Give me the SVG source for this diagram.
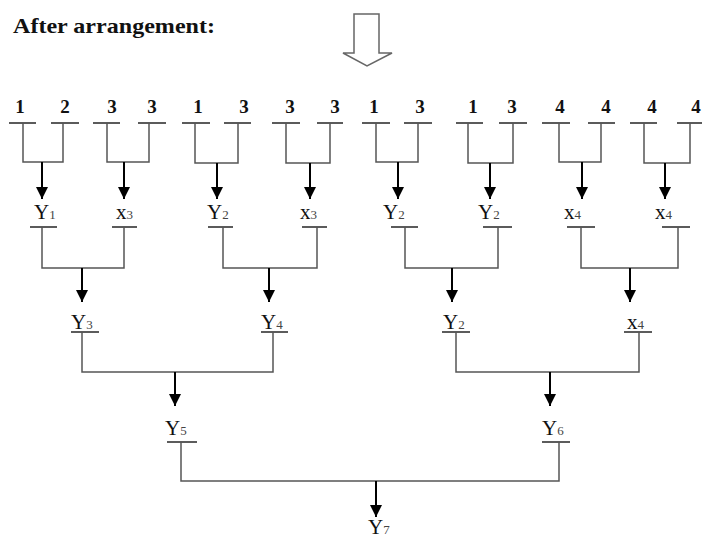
<svg xmlns="http://www.w3.org/2000/svg" width="702" height="541" viewBox="0 0 702 541">
<style>
  text { font-family: "Liberation Serif", "Times New Roman", serif; fill: #111; }
  .title { font-size: 21px; font-weight: bold; }
  .num { font-size: 19px; font-weight: bold; text-anchor: middle; }
  .lab { font-size: 21px; }
  .sub { font-size: 13px; fill: #444; }
  .bar { stroke: #333; stroke-width: 1.6; fill: none; }
  .wire { stroke: #555; stroke-width: 1.5; fill: none; }
  .arr { stroke: #000; stroke-width: 2; fill: none; marker-end: url(#ah); }
</style>
<defs>
  <marker id="ah" markerUnits="userSpaceOnUse" markerWidth="12" markerHeight="12" refX="12" refY="6" orient="auto">
    <path d="M0,0 L12,6 L0,12 z" fill="#000"/>
  </marker>
</defs>
<rect width="702" height="541" fill="#fff"/>
<g id="title"><text class="title" x="13" y="33" textLength="202" lengthAdjust="spacingAndGlyphs">After arrangement:</text></g>
<g id="big-arrow"><polygon points="354,14 379,14 379,53 392,53 367,66 343,53 354,53" fill="#fff" stroke="#666" stroke-width="1.5"/></g>

<!-- leaf nodes -->
<g id="leaf1"><text class="num" x="20" y="113">1</text><line class="bar" x1="9" y1="123" x2="36" y2="123"/></g>
<g id="leaf2"><text class="num" x="65" y="113">2</text><line class="bar" x1="51" y1="123" x2="79" y2="123"/></g>
<g id="leaf3"><text class="num" x="112" y="113">3</text><line class="bar" x1="93" y1="123" x2="120" y2="123"/></g>
<g id="leaf4"><text class="num" x="152" y="113">3</text><line class="bar" x1="138" y1="123" x2="166" y2="123"/></g>
<g id="leaf5"><text class="num" x="198" y="113">1</text><line class="bar" x1="182" y1="123" x2="210" y2="123"/></g>
<g id="leaf6"><text class="num" x="244" y="113">3</text><line class="bar" x1="224" y1="123" x2="251" y2="123"/></g>
<g id="leaf7"><text class="num" x="290" y="113">3</text><line class="bar" x1="272" y1="123" x2="300" y2="123"/></g>
<g id="leaf8"><text class="num" x="335" y="113">3</text><line class="bar" x1="317" y1="123" x2="343" y2="123"/></g>
<g id="leaf9"><text class="num" x="374" y="113">1</text><line class="bar" x1="362" y1="123" x2="390" y2="123"/></g>
<g id="leaf10"><text class="num" x="420" y="113">3</text><line class="bar" x1="404" y1="123" x2="432" y2="123"/></g>
<g id="leaf11"><text class="num" x="473" y="113">1</text><line class="bar" x1="456" y1="123" x2="483" y2="123"/></g>
<g id="leaf12"><text class="num" x="512" y="113">3</text><line class="bar" x1="499" y1="123" x2="527" y2="123"/></g>
<g id="leaf13"><text class="num" x="560" y="113">4</text><line class="bar" x1="542" y1="123" x2="570" y2="123"/></g>
<g id="leaf14"><text class="num" x="606" y="113">4</text><line class="bar" x1="588" y1="123" x2="615" y2="123"/></g>
<g id="leaf15"><text class="num" x="652" y="113">4</text><line class="bar" x1="630" y1="123" x2="657" y2="123"/></g>
<g id="leaf16"><text class="num" x="696" y="113">4</text><line class="bar" x1="677" y1="123" x2="702" y2="123"/></g>

<!-- level 1 nodes -->
<g id="n1-1"><text class="lab" x="34" y="219">Y<tspan class="sub">1</tspan></text><line class="bar" x1="30" y1="227" x2="57" y2="227"/></g>
<g id="n1-2"><text class="lab" x="116" y="219">x<tspan class="sub">3</tspan></text><line class="bar" x1="112" y1="227" x2="137" y2="227"/></g>
<g id="n1-3"><text class="lab" x="207" y="219">Y<tspan class="sub">2</tspan></text><line class="bar" x1="208" y1="227" x2="233" y2="227"/></g>
<g id="n1-4"><text class="lab" x="300" y="219">x<tspan class="sub">3</tspan></text><line class="bar" x1="302" y1="227" x2="327" y2="227"/></g>
<g id="n1-5"><text class="lab" x="383" y="219">Y<tspan class="sub">2</tspan></text><line class="bar" x1="391" y1="227" x2="418" y2="227"/></g>
<g id="n1-6"><text class="lab" x="478" y="219">Y<tspan class="sub">2</tspan></text><line class="bar" x1="483" y1="227" x2="512" y2="227"/></g>
<g id="n1-7"><text class="lab" x="564" y="219">x<tspan class="sub">4</tspan></text><line class="bar" x1="567" y1="227" x2="595" y2="227"/></g>
<g id="n1-8"><text class="lab" x="655" y="219">x<tspan class="sub">4</tspan></text><line class="bar" x1="662" y1="227" x2="690" y2="227"/></g>

<!-- level 2 nodes -->
<g id="n2-1"><text class="lab" x="71" y="329">Y<tspan class="sub">3</tspan></text><line class="bar" x1="71" y1="332" x2="99" y2="332"/></g>
<g id="n2-2"><text class="lab" x="261" y="329">Y<tspan class="sub">4</tspan></text><line class="bar" x1="261" y1="332" x2="288" y2="332"/></g>
<g id="n2-3"><text class="lab" x="443" y="329">Y<tspan class="sub">2</tspan></text><line class="bar" x1="442" y1="332" x2="470" y2="332"/></g>
<g id="n2-4"><text class="lab" x="627" y="329">x<tspan class="sub">4</tspan></text><line class="bar" x1="624" y1="332" x2="652" y2="332"/></g>

<!-- level 3 nodes -->
<g id="n3-1"><text class="lab" x="165" y="435">Y<tspan class="sub">5</tspan></text><line class="bar" x1="167" y1="442" x2="197" y2="442"/></g>
<g id="n3-2"><text class="lab" x="542" y="435">Y<tspan class="sub">6</tspan></text><line class="bar" x1="542" y1="442" x2="570" y2="442"/></g>

<!-- root -->
<g id="root"><text class="lab" x="368" y="534">Y<tspan class="sub">7</tspan></text></g>

<!-- connectors -->
<g id="connectors">
  <path class="wire" d="M23,123 V162 H63 V123"/>
  <path class="wire" d="M107,123 V162 H149 V123"/>
  <path class="wire" d="M195,123 V163 H238 V123"/>
  <path class="wire" d="M286,123 V163 H330 V123"/>
  <path class="wire" d="M376,123 V162 H418 V123"/>
  <path class="wire" d="M468,123 V163 H513 V123"/>
  <path class="wire" d="M559,123 V162 H601 V123"/>
  <path class="wire" d="M644,123 V163 H690 V123"/>
  <line class="arr" x1="42" y1="162" x2="42" y2="199"/>
  <line class="arr" x1="124" y1="162" x2="124" y2="199"/>
  <line class="arr" x1="217" y1="163" x2="217" y2="199"/>
  <line class="arr" x1="310" y1="163" x2="310" y2="199"/>
  <line class="arr" x1="398" y1="162" x2="398" y2="199"/>
  <line class="arr" x1="490" y1="163" x2="490" y2="199"/>
  <line class="arr" x1="582" y1="162" x2="582" y2="199"/>
  <line class="arr" x1="665" y1="163" x2="665" y2="199"/>

  <path class="wire" d="M42,227 V268 H124 V227"/>
  <path class="wire" d="M223,227 V268 H317 V227"/>
  <path class="wire" d="M405,227 V268 H498 V227"/>
  <path class="wire" d="M581,227 V268 H678 V227"/>
  <line class="arr" x1="82" y1="268" x2="82" y2="302"/>
  <line class="arr" x1="269" y1="268" x2="269" y2="302"/>
  <line class="arr" x1="452" y1="268" x2="452" y2="302"/>
  <line class="arr" x1="630" y1="268" x2="630" y2="302"/>

  <path class="wire" d="M82,332 V372 H273 V332"/>
  <path class="wire" d="M456,332 V372 H639 V332"/>
  <line class="arr" x1="175" y1="372" x2="175" y2="406"/>
  <line class="arr" x1="550" y1="372" x2="550" y2="406"/>

  <path class="wire" d="M181,442 V481 H559 V442"/>
  <line class="arr" x1="376" y1="481" x2="376" y2="517"/>
</g>
</svg>
